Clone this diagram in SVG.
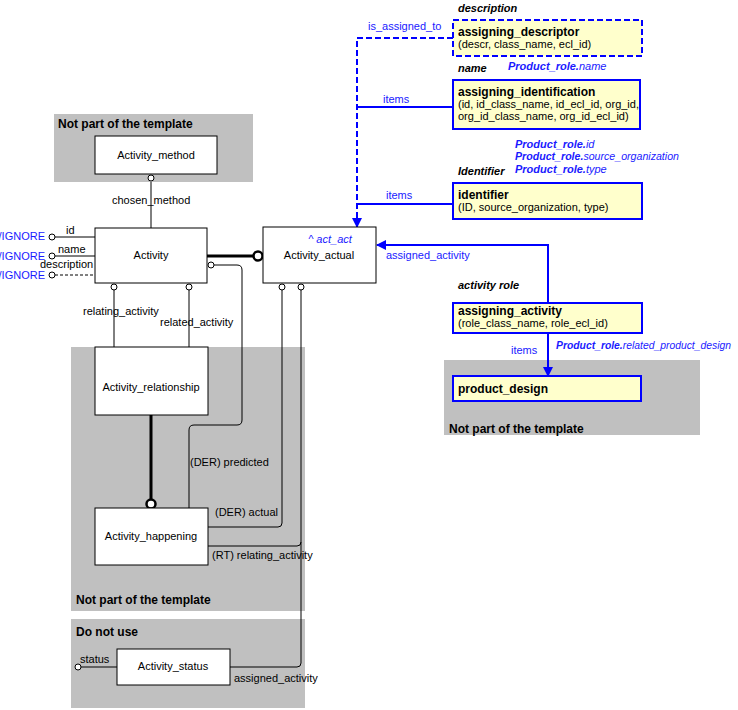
<svg xmlns="http://www.w3.org/2000/svg" width="738" height="710" viewBox="0 0 738 710">
<style>
text{font-family:"Liberation Sans",Arial,sans-serif;font-size:11px;fill:#000}
.grey{fill:#c0c0c0}
.gl{font-size:12px;font-weight:bold}
.box{fill:#fff;stroke:#000;stroke-width:1}
.ybox{fill:#ffffcc;stroke:#0000ff;stroke-width:2}
.b{fill:#1a1aff}
.bi{fill:#1a1aff;font-style:italic}
.bbi{fill:#1a1aff;font-style:italic;font-weight:bold}
.t{font-weight:bold;font-size:12px}
.it{font-weight:bold;font-style:italic}
.ln{fill:none;stroke:#000;stroke-width:1}
.bl{fill:none;stroke:#0000ff;stroke-width:2}
.c{fill:#fff;stroke:#000;stroke-width:1}
</style>
<defs><marker id="ar" markerWidth="10" markerHeight="10" refX="9" refY="5" orient="auto" markerUnits="userSpaceOnUse"><path d="M0,0 L10,5 L0,10 z" fill="#0000ff"/></marker></defs>
<g id="regions">
<rect class="grey" x="54" y="114" width="199" height="68"/><text class="gl" x="58" y="128">Not part of the template</text>
<rect class="grey" x="71" y="347" width="234" height="264"/><text class="gl" x="76" y="604">Not part of the template</text>
<rect class="grey" x="71" y="619" width="234" height="89"/><text class="gl" x="76" y="636">Do not use</text>
<rect class="grey" x="444" y="360" width="256" height="75"/><text class="gl" x="449" y="433">Not part of the template</text>
</g>
<g id="connectors">
<path class="ln" d="M151,182 V228"/><circle class="c" cx="151" cy="178" r="3"/><text x="112" y="204">chosen_method</text>
<path class="ln" d="M55,237 H95"/><circle class="c" cx="52" cy="237" r="3"/><text x="66" y="234">id</text><text class="b" x="45" y="240" text-anchor="end">/IGNORE</text>
<path class="ln" d="M55,256 H95"/><circle class="c" cx="52" cy="256" r="3"/><text x="58" y="253">name</text><text class="b" x="45" y="260" text-anchor="end">/IGNORE</text>
<path class="ln" d="M55,275 H95" stroke-dasharray="3,2"/><circle class="c" cx="52" cy="275" r="3"/><text x="40" y="268">description</text><text class="b" x="45" y="279" text-anchor="end">/IGNORE</text>
<path d="M207,256 H253" fill="none" stroke="#000" stroke-width="3"/><circle cx="258" cy="256" r="4.5" fill="#fff" stroke="#000" stroke-width="2.5"/>
<path class="ln" d="M214,265 H237 Q242,265 242,270 V420 Q242,425 237,425 H194 Q189,425 189,430 V508"/><circle class="c" cx="211" cy="265" r="3"/><text x="190" y="466">(DER) predicted</text>
<path class="ln" d="M114,290 V347"/><circle class="c" cx="114" cy="287" r="3"/><text x="83" y="315">relating_activity</text>
<path class="ln" d="M189,290 V347"/><circle class="c" cx="189" cy="287" r="3"/><text x="160" y="326">related_activity</text>
<path d="M151,415 V499" fill="none" stroke="#000" stroke-width="3"/><circle cx="151" cy="504" r="4.5" fill="#fff" stroke="#000" stroke-width="2.5"/>
<path class="ln" d="M282,290 V523 Q282,527 278,527 H208"/><circle class="c" cx="282" cy="287" r="3"/><text x="215" y="516">(DER) actual</text>
<path class="ln" d="M301,290 V663 Q301,667 297,667 H230 M208,546 H297 Q301,546 301,542"/><circle class="c" cx="301" cy="287" r="3"/><text x="212" y="559">(RT) relating_activity</text><text x="234" y="682">assigned_activity</text>
<path class="ln" d="M81,667 H117"/><circle class="c" cx="78" cy="667" r="3"/><text x="80" y="663">status</text>
<path class="bl" d="M453,38 H357 V227" stroke-dasharray="6,3" marker-end="url(#ar)"/><text class="b" x="368" y="30">is_assigned_to</text>
<path class="bl" d="M453,107 H357"/><text class="b" x="383" y="103">items</text>
<path class="bl" d="M453,204 H357"/><text class="b" x="386" y="199">items</text>
<path class="bl" d="M548,303 V245 H377" marker-end="url(#ar)"/><text class="b" x="386" y="259">assigned_activity</text>
<path class="bl" d="M548,333 V376" marker-end="url(#ar)"/><text class="b" x="511" y="354">items</text>
<text x="556" y="349" textLength="175" lengthAdjust="spacingAndGlyphs"><tspan class="bbi">Product_role.</tspan><tspan class="bi">related_product_design</tspan></text>
</g>
<g id="Activity_method"><rect class="box" x="95" y="136" width="122" height="38"/><text x="156" y="159" text-anchor="middle">Activity_method</text></g>
<g id="Activity"><rect class="box" x="95" y="228" width="112" height="55"/><text x="151" y="259" text-anchor="middle">Activity</text></g>
<g id="Activity_actual"><rect class="box" x="263" y="227" width="113" height="56"/><text class="bi" x="330" y="243" font-size="10" text-anchor="middle">^ act_act</text><text x="319" y="259" text-anchor="middle">Activity_actual</text></g>
<g id="Activity_relationship"><rect class="box" x="95" y="347" width="113" height="68"/><text x="151" y="391" text-anchor="middle">Activity_relationship</text></g>
<g id="Activity_happening"><rect class="box" x="95" y="508" width="113" height="57"/><text x="151" y="540" text-anchor="middle">Activity_happening</text></g>
<g id="Activity_status"><rect class="box" x="117" y="649" width="113" height="36"/><text x="173" y="670" text-anchor="middle">Activity_status</text></g>
<g id="assigning_descriptor"><text class="it" x="458" y="12">description</text><rect class="ybox" x="453" y="20" width="189" height="36" stroke-dasharray="6,3"/><text class="t" x="458" y="36">assigning_descriptor</text><text x="458" y="48">(descr, class_name, ecl_id)</text></g>
<g id="assigning_identification"><text class="it" x="458" y="72">name</text><text x="508" y="70"><tspan class="bbi">Product_role.</tspan><tspan class="bi">name</tspan></text><rect class="ybox" x="453" y="80" width="187" height="49"/><text class="t" x="458" y="96">assigning_identification</text><text x="458" y="108">(id, id_class_name, id_ecl_id, org_id,</text><text x="458" y="120">org_id_class_name, org_id_ecl_id)</text></g>
<g id="identifier"><text x="515" y="148"><tspan class="bbi">Product_role.</tspan><tspan class="bi">id</tspan></text><text x="515" y="160" textLength="164" lengthAdjust="spacingAndGlyphs"><tspan class="bbi">Product_role.</tspan><tspan class="bi">source_organization</tspan></text><text x="515" y="173"><tspan class="bbi">Product_role.</tspan><tspan class="bi">type</tspan></text><text class="it" x="458" y="175">Identifier</text><rect class="ybox" x="453" y="183" width="189" height="36"/><text class="t" x="458" y="199">identifier</text><text x="458" y="211">(ID, source_organization, type)</text></g>
<g id="assigning_activity"><text class="it" x="458" y="289">activity role</text><rect class="ybox" x="453" y="303" width="189" height="30"/><text class="t" x="458" y="315">assigning_activity</text><text x="458" y="327">(role_class_name, role_ecl_id)</text></g>
<g id="product_design"><rect class="ybox" x="453" y="376" width="188" height="25"/><text class="t" x="458" y="393">product_design</text></g>
</svg>
